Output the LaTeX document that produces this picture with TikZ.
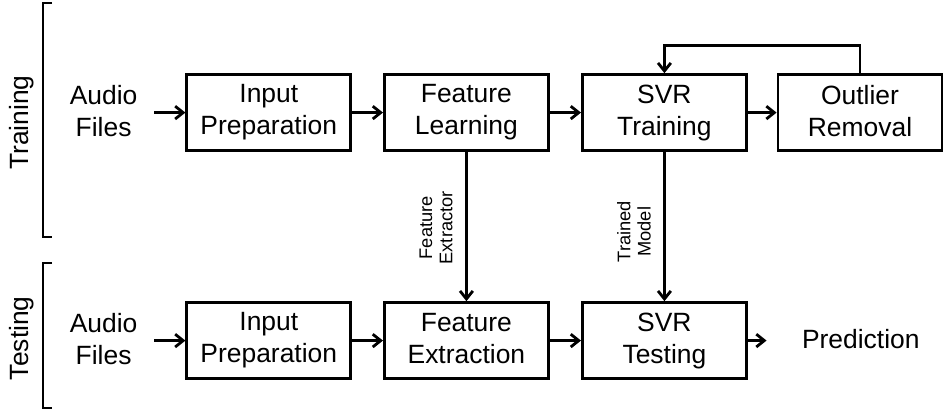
\documentclass[tikz,border=0pt]{standalone}
\usepackage{fontspec}
\setmainfont{Liberation Sans}
\usetikzlibrary{arrows.meta,positioning,calc}
\newcommand{\capstrut}{\rule[-0.15em]{0pt}{0.87em}}

\begin{document}
\begin{tikzpicture}[
  stagebox/.style={draw,line width=2pt,minimum width=4.1cm,minimum height=1.9cm,
    font=\fontsize{18.8}{22.7}\selectfont,align=center,
    execute at begin node=\capstrut,execute at end node=\capstrut},
  plaintext/.style={font=\fontsize{18.8}{22.7}\selectfont,align=center,
    execute at begin node=\capstrut,execute at end node=\capstrut},
  sidelabel/.style={font=\fontsize{13}{14.5}\selectfont,align=center,rotate=90},
  flow/.style={line width=2pt,-{Straight Barb[length=2mm,width=3.2mm]}},
  phase/.style={line width=1.8pt}
]
  \useasboundingbox (0,0) rectangle (23.575,10.275);

  % Phase brackets
  \node[plaintext,rotate=90] (trainlbl) at (0.55,7.21) {Training};
  \node[plaintext,rotate=90] (testlbl) at (0.55,1.82) {Testing};
  \draw[phase] (1.3,10.2) -- (1.075,10.2) -- (1.075,4.35) -- (1.3,4.35);
  \draw[phase] (1.3,3.7) -- (1.075,3.7) -- (1.075,0.075) -- (1.3,0.075);

  % Row 1: training
  \node[plaintext,inner xsep=0.42cm] (audio1) at (2.59,7.46) {Audio\\Files};
  \node[stagebox] (prep1) at (6.72,7.46) {Input\\Preparation};
  \node[stagebox] (learn) at (11.66,7.46) {Feature\\Learning};
  \node[stagebox] (svrtrain) at (16.61,7.46) {SVR\\Training};
  \node[stagebox] (outlier) at (21.5,7.46) {Outlier\\Removal};

  \draw[flow] (audio1) -- (prep1);
  \draw[flow] (prep1) -- (learn);
  \draw[flow] (learn) -- (svrtrain);
  \draw[flow] (svrtrain) -- (outlier);
  \draw[flow] (outlier.north) -- ++(0,0.69) -| (svrtrain.north);

  % Row 2: testing
  \node[plaintext,inner xsep=0.42cm] (audio2) at (2.59,1.76) {Audio\\Files};
  \node[stagebox] (prep2) at (6.72,1.76) {Input\\Preparation};
  \node[stagebox] (extract) at (11.66,1.76) {Feature\\Extraction};
  \node[stagebox] (svrtest) at (16.61,1.76) {SVR\\Testing};
  \node[plaintext,inner xsep=0.88cm] (predict) at (21.52,1.76) {Prediction};

  \draw[flow] (audio2) -- (prep2);
  \draw[flow] (prep2) -- (extract);
  \draw[flow] (extract) -- (svrtest);
  \draw[flow] (svrtest) -- (predict);

  % Between the rows
  \draw[flow] (learn) -- (extract);
  \draw[flow] (svrtrain) -- (svrtest);
  \node[sidelabel] (extractor) at (10.9,4.58) {Feature\\Extractor};
  \node[sidelabel] (model) at (15.85,4.48) {Trained\\Model};
\end{tikzpicture}
\end{document}
